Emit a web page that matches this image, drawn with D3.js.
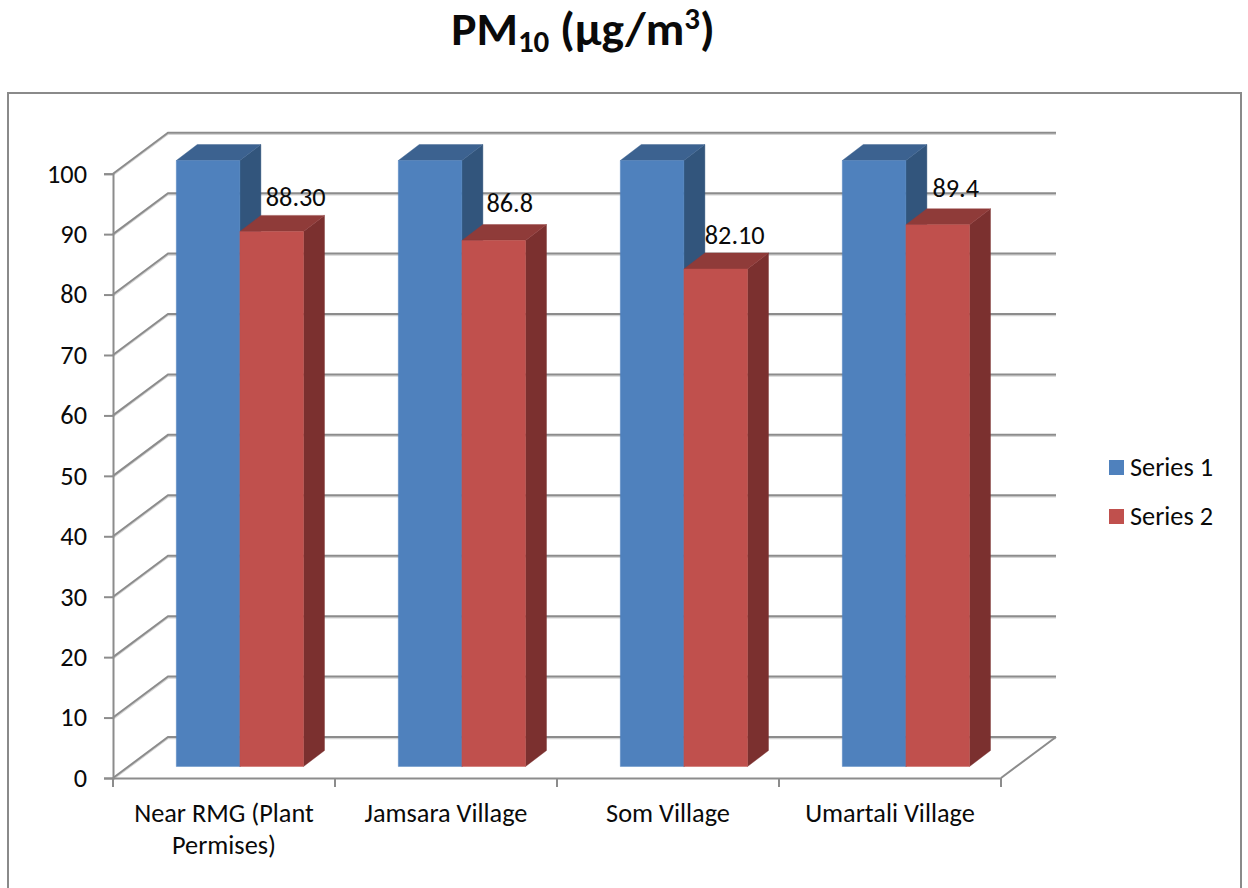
<!DOCTYPE html>
<html>
<head>
<meta charset="utf-8">
<script src="https://cdn.jsdelivr.net/npm/d3@7/dist/d3.min.js"></script>
<style>
html,body{margin:0;padding:0;background:#fff;overflow:hidden}
svg{display:block}
text{font-family:Carlito,Lato,"Open Sans",sans-serif;fill:#0a0a0a}
</style>
</head>
<body>
<svg id="chart" width="1248" height="888"></svg>
<script>
const categories = ["Near RMG (Plant Permises)", "Jamsara Village", "Som Village", "Umartali Village"];
const categoryLines = [["Near RMG (Plant", "Permises)"], ["Jamsara Village"], ["Som Village"], ["Umartali Village"]];
const seriesNames = ["Series 1", "Series 2"];
const series1 = [100, 100, 100, 100];
const series2 = [88.3, 86.8, 82.1, 89.4];
const series2Labels = ["88.30", "86.8", "82.10", "89.4"];
const yTicks = [0, 10, 20, 30, 40, 50, 60, 70, 80, 90, 100];

// layout
const frontColors = ["#4F81BD", "#C0504D"];
const topColors = ["#3C6290", "#8F3B39"];
const sideColors = ["#32557C", "#7B302F"];
const FONT = 26.3;
const depthX = 55, depthY = 41;            // wall depth projection
const barDX = 21, barDY = 16;              // bar depth projection
const barLift = 11.5;                      // bar front plane above the front axis
const labelNudge = [[24, -25], [16, -28], [19, -25], [18, -28]];

const svg = d3.select("#chart");

const x = d3.scaleBand().domain(categories).range([113, 1001]);
const xInner = d3.scaleBand().domain(seriesNames).range([63.3, 190.5]);
const y = d3.scaleLinear().domain([0, 100]).range([778, 173.7]);
const yBar = d3.scaleLinear().domain([0, 100]).range([778 - barLift, 160.5]);

// frame
svg.append("rect").attr("x", 8).attr("y", 93).attr("width", 1233).attr("height", 860)
  .attr("fill", "#fff").attr("stroke", "#8a8a8a").attr("stroke-width", 2);

// gridlines: walls and floor
const gridColor = "#8c8c8c";
const grid = svg.append("g").attr("fill", "none");
[["#d4d4d4", 1.5], [gridColor, 2]].forEach(([c, w], i) => {
  const off = i === 0 ? 1.5 : 0;
  grid.selectAll(null).data(yTicks).join("path")
    .attr("stroke", c).attr("stroke-width", w)
    .attr("d", t => {
      const p = d3.path();
      p.moveTo(113, y(t) + off);
      p.lineTo(113 + depthX, y(t) - depthY + off);
      p.lineTo(1001 + depthX, y(t) - depthY + off);
      return p.toString();
    });
});
// floor right edge
grid.append("line").attr("x1", 1001).attr("y1", y(0)).attr("x2", 1001 + depthX).attr("y2", y(0) - depthY)
  .attr("stroke", gridColor).attr("stroke-width", 2);

// axes
const yAxis = d3.axisLeft(y).tickValues(yTicks).tickSize(9).tickPadding(17).tickFormat(d3.format("d"));
const gy = svg.append("g").attr("transform", "translate(113,0)").call(yAxis);
gy.select(".domain").attr("stroke", gridColor).attr("stroke-width", 2);
gy.selectAll(".tick line").attr("stroke", gridColor).attr("stroke-width", 2);
gy.selectAll(".tick text").attr("font-size", FONT).style("font-family", null).attr("fill", "#0a0a0a");
gy.attr("font-family", null);

const xAxis = d3.axisBottom(x).tickSize(0).tickPadding(0).tickFormat("");
const gx = svg.append("g").attr("transform", "translate(0,778)").call(xAxis);
gx.attr("font-family", null);
gx.select(".domain").attr("stroke", gridColor).attr("stroke-width", 2);
gx.selectAll(null).data(categories.concat(["end"])).join("line")
  .attr("x1", (d, i) => i < 4 ? x(d) : x.range()[1])
  .attr("x2", (d, i) => i < 4 ? x(d) : x.range()[1])
  .attr("y1", 0).attr("y2", 9)
  .attr("stroke", gridColor).attr("stroke-width", 2);

// category labels
categories.forEach((c, i) => {
  const t = svg.append("text").attr("text-anchor", "middle").attr("font-size", FONT);
  categoryLines[i].forEach((line, k) => {
    t.append("tspan").attr("x", x(c) + x.bandwidth() / 2).attr("y", 822 + k * 32).text(line);
  });
});

// 3D bars
function drawBar(g, cat, s, si, value) {
  const x0 = x(cat) + xInner(s), w = xInner.bandwidth();
  const x1 = x0 + w, yb = yBar(0), yt = yBar(value);
  const poly = (pts, fill) => g.append("polygon").attr("points", pts.map(p => p.join(",")).join(" "))
    .attr("fill", fill).attr("stroke", fill).attr("stroke-width", 0.4);
  poly([[x1, yt], [x1 + barDX, yt - barDY], [x1 + barDX, yb - barDY], [x1, yb]], sideColors[si]);
  poly([[x0, yt], [x0 + barDX, yt - barDY], [x1 + barDX, yt - barDY], [x1, yt]], topColors[si]);
  poly([[x0, yt], [x1, yt], [x1, yb], [x0, yb]], frontColors[si]);
}
const bars = svg.append("g");
categories.forEach((c, i) => {
  drawBar(bars, c, seriesNames[0], 0, series1[i]);
  drawBar(bars, c, seriesNames[1], 1, series2[i]);
});

// data labels for series 2
categories.forEach((c, i) => {
  svg.append("text").attr("text-anchor", "middle").attr("font-size", FONT)
    .attr("x", x(c) + xInner(seriesNames[1]) + xInner.bandwidth() / 2 + labelNudge[i][0])
    .attr("y", yBar(series2[i]) + labelNudge[i][1])
    .text(series2Labels[i]);
});

// legend
const legendY = d3.scalePoint().domain(seriesNames).range([467.5, 516.5]);
seriesNames.forEach((s, i) => {
  svg.append("rect").attr("x", 1109).attr("y", legendY(s) - 7.5).attr("width", 15).attr("height", 15).attr("fill", frontColors[i]);
  svg.append("text").attr("x", 1130).attr("y", legendY(s) + 8).attr("font-size", FONT).text(s);
});

// title
const title = svg.append("text").attr("x", 583).attr("y", 45).attr("text-anchor", "middle")
  .attr("font-size", 47.4).attr("font-weight", 700);
title.append("tspan").text("PM");
title.append("tspan").attr("font-size", 31).attr("dy", 7).text("10");
title.append("tspan").attr("dy", -7).text(" (µg/m");
title.append("tspan").attr("font-size", 31).attr("dy", -16).text("3");
title.append("tspan").attr("dy", 16).text(")");
</script>
</body>
</html>
